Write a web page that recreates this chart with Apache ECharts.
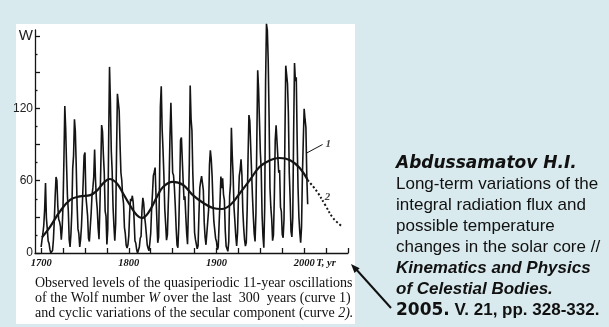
<!DOCTYPE html>
<html>
<head>
<meta charset="utf-8">
<script src="https://cdn.jsdelivr.net/npm/echarts@6/dist/echarts.min.js"></script>
<style>
  html, body { margin: 0; padding: 0; background: #d9eaee; }
  #chart { width: 609px; height: 327px; }
</style>
</head>
<body>
<div id="chart"></div>
<script>
// Yearly Wolf numbers W, 1700 onward (curve 1)
const wolfStartYear = 1700;
const wolfValues = [
  5, 11, 16, 23, 36, 58, 29, 20, 10, 8,
  3, 0, 0, 2, 11, 27, 47, 63, 60, 39,
  28, 26, 22, 11, 21, 40, 78, 122, 103, 73,
  47, 35, 11, 5, 16, 34, 70, 81, 111, 101,
  73, 40, 20, 16, 5, 11, 22, 40, 60, 80.9,
  83.4, 47.7, 47.8, 30.7, 12.2, 9.6, 10.2, 32.4, 47.6, 54,
  62.9, 85.9, 61.2, 45.1, 36.4, 20.9, 11.4, 37.8, 69.8, 106.1,
  100.8, 81.6, 66.5, 34.8, 30.6, 7, 19.8, 92.5, 154.4, 125.9,
  84.8, 68.1, 38.5, 22.8, 10.2, 24.1, 82.9, 132, 130.9, 118.1,
  89.9, 66.6, 60, 46.9, 41, 21.3, 16, 6.4, 4.1, 6.8,
  14.5, 34, 45, 43.1, 47.5, 42.2, 28.1, 10.1, 8.1, 2.5,
  0, 1.4, 5, 12.2, 13.9, 35.4, 45.8, 41.1, 30.1, 23.9,
  15.6, 6.6, 4, 1.8, 8.5, 16.6, 36.3, 49.6, 64.2, 67,
  70.9, 47.8, 27.5, 8.5, 13.2, 56.9, 121.5, 138.3, 103.2, 85.7,
  64.6, 36.7, 24.2, 10.7, 15, 40.1, 61.5, 98.5, 124.7, 96.3,
  66.6, 64.5, 54.1, 39, 20.6, 6.7, 4.3, 22.7, 54.8, 93.8,
  95.8, 77.2, 59.1, 44, 47, 30.5, 16.3, 7.3, 37.6, 74,
  139, 111.2, 101.6, 66.2, 44.7, 17, 11.3, 12.4, 3.4, 6,
  32.3, 54.3, 59.7, 63.7, 63.5, 52.2, 25.4, 13.1, 6.8, 6.3,
  7.1, 35.6, 73, 85.1, 78, 64, 41.8, 26.2, 26.7, 12.1,
  9.5, 2.7, 5, 24.4, 42, 63.5, 53.8, 62, 48.5, 43.9,
  18.6, 5.7, 3.6, 1.4, 9.6, 47.4, 57.1, 103.9, 80.6, 63.6,
  37.6, 26.1, 14.2, 5.8, 16.7, 44.3, 63.9, 69, 77.8, 64.9,
  35.7, 21.2, 11.1, 5.7, 8.7, 36.1, 79.7, 114.4, 109.6, 88.8,
  67.8, 47.5, 30.6, 16.3, 9.6, 33.2, 92.6, 151.6, 136.3, 134.7,
  83.9, 69.4, 31.5, 13.9, 4.4, 38, 141.7, 190.2, 184.8, 159,
  112.3, 53.9, 37.6, 27.9, 10.2, 15.1, 47, 93.8, 105.9, 105.5,
  104.5, 66.6, 68.9, 38, 34.5, 15.5, 12.6, 27.5, 92.5, 155.4,
  154.6, 140.4, 115.9, 66.6, 45.9, 17.9, 13.4, 29.4, 100.2, 157.6,
  142.6, 145.7, 94.3, 54.6, 29.9, 17.5, 8.6, 21.5, 64.3, 93.3,
  119.6, 111, 104, 63.7, 40.4
];

// Secular component (curve 2): observed part and its extension
const secularYears  = [1701, 1710, 1721, 1733, 1744, 1756, 1764, 1771, 1778, 1786, 1793, 1801, 1809, 1815, 1822, 1832, 1839, 1850, 1862, 1873, 1885, 1896, 1906, 1916, 1927, 1938, 1949, 1961, 1972, 1984, 1995, 2004];
const secularValues = [13, 21.5, 34, 44, 47, 48, 52, 58, 61.4, 58, 50, 40, 31.5, 29, 33, 46.4, 54.7, 59, 56.4, 48, 41.5, 37.3, 36.5, 40, 50, 60.5, 71.3, 77, 78.8, 77, 70.5, 60.5];
const forecastYears  = [2004, 2015, 2024, 2033, 2044];
const forecastValues = [60.5, 50.6, 39.8, 29, 21.6];

// Axis ticks and labels
const xTickYears  = [1700, 1725, 1750, 1775, 1800, 1825, 1850, 1875, 1900, 1925, 1950, 1975, 2000, 2025, 2050];
const xLabelYears = [1700, 1800, 1900, 2000, 2025];
const xAxisName   = 'T, yr';
const yMajorTicks = [0, 30, 60, 90, 120, 150, 180];
const yMinorTicks = [15, 45, 75, 105, 135, 165];
const yLabelTicks = [0, 60, 120, 180];
const yAxisName   = 'W';

const wolfData = wolfValues.map((v, i) => [wolfStartYear + i, v]);
const secularData = secularYears.map((y, i) => [y, secularValues[i]]);
const forecastData = forecastYears.map((y, i) => [y, forecastValues[i]]);

const ink = '#141414';
const serif = "'Liberation Serif', 'Times New Roman', serif";
const sans = "'Liberation Sans', Arial, sans-serif";
const heavy = "'DejaVu Sans', 'Liberation Sans', sans-serif";

const chart = echarts.init(document.getElementById('chart'), null, { renderer: 'canvas' });

const option = {
  backgroundColor: '#d9eaee',
  animation: false,
  grid: { left: 35, right: 261, top: 30, bottom: 74, containLabel: false },
  xAxis: {
    type: 'value', min: 1693, max: 2050,
    splitLine: { show: false },
    axisLine: { show: true, lineStyle: { color: ink, width: 1.3 } },
    axisTick: { show: true, inside: true, length: 5, customValues: xTickYears, lineStyle: { color: ink, width: 1.3 } },
    axisLabel: {
      customValues: xLabelYears, margin: 5,
      formatter: v => (v === 2025 ? xAxisName : String(v)),
      fontFamily: serif, fontStyle: 'italic', fontWeight: 'bold', fontSize: 10.5, color: ink
    }
  },
  yAxis: [{
    type: 'value', min: 0, max: 185,
    splitLine: { show: false },
    axisLine: { show: true, lineStyle: { color: ink, width: 1.3 } },
    axisTick: { show: true, inside: true, length: 5, customValues: yMajorTicks, lineStyle: { color: ink, width: 1.3 } },
    axisLabel: {
      customValues: yLabelTicks, margin: 2,
      formatter: v => (v === 180 ? '{w|' + yAxisName + '}' : String(v)),
      fontFamily: sans, fontSize: 12, color: '#222',
      rich: { w: { fontFamily: sans, fontSize: 15, color: '#222' } }
    }
  }, {
    type: 'value', min: 0, max: 185, position: 'left',
    splitLine: { show: false },
    axisLine: { show: false },
    axisTick: { show: true, inside: true, length: 2.5, customValues: yMinorTicks, lineStyle: { color: ink, width: 1.3 } },
    axisLabel: { show: false }
  }],
  series: [{
    name: 'curve 1', type: 'line', data: wolfData, clip: false,
    symbol: 'none', lineStyle: { color: ink, width: 1.6 },
    markLine: {
      silent: true, symbol: 'none', label: { show: false },
      lineStyle: { color: ink, width: 1, type: 'solid' },
      data: [[{ coord: [2003, 83] }, { coord: [2021, 90] }]]
    }
  }, {
    name: 'curve 2', type: 'line', data: secularData, smooth: 0.4,
    symbol: 'none', lineStyle: { color: ink, width: 2.2 }
  }, {
    name: 'curve 2 extension', type: 'line', data: forecastData, smooth: 0.4,
    symbol: 'none', lineStyle: { color: ink, width: 2, type: [2, 2.2] }
  }, {
    name: 'curve labels', type: 'scatter', symbolSize: 0,
    data: [[2027.5, 90.5, '1'], [2026.5, 46, '2']],
    label: {
      show: true, position: 'inside', formatter: p => p.data[2],
      fontFamily: serif, fontStyle: 'italic', fontWeight: 'bold', fontSize: 11, color: ink
    }
  }],
  graphic: [
    // white panel behind the figure
    { type: 'rect', z: -10, shape: { x: 16, y: 24, width: 339, height: 300 }, style: { fill: '#ffffff' } },
    // figure caption
    { type: 'text', left: 35, top: 276, style: { text: 'Observed levels of the quasiperiodic 11-year oscillations', fontFamily: serif, fontSize: 14, fill: '#111' } },
    { type: 'text', left: 35, top: 291, style: {
      text: 'of the Wolf number {i|W} over the last  300  years (curve 1)',
      fontFamily: serif, fontSize: 14, fill: '#111',
      rich: { i: { fontFamily: serif, fontStyle: 'italic', fontSize: 14, fill: '#111' } } } },
    { type: 'text', left: 35, top: 306, style: {
      text: 'and cyclic variations of the secular component (curve {i|2).}',
      fontFamily: serif, fontSize: 14, fill: '#111',
      rich: { i: { fontFamily: serif, fontStyle: 'italic', fontSize: 14, fill: '#111' } } } },
    // reference block
    { type: 'text', left: 396, top: 153, style: {
      text: [
        '{h|Abdussamatov H.I.}',
        '{n|Long-term variations of the}',
        '{n|integral radiation flux and}',
        '{n|possible temperature}',
        '{n|changes in the solar core //}',
        '{b|Kinematics and Physics}',
        '{b|of Celestial Bodies.}',
        '{y|2005.}{p| V. 21, pp. 328-332.}'
      ].join('\n'),
      fill: '#111', fontFamily: sans, fontSize: 17, lineHeight: 21,
      rich: {
        h: { fontFamily: heavy, fontSize: 17, fontWeight: 'bold', fontStyle: 'italic', lineHeight: 21, fill: '#111' },
        n: { fontFamily: sans, fontSize: 17, lineHeight: 21, fill: '#111' },
        b: { fontFamily: sans, fontSize: 17, fontWeight: 'bold', fontStyle: 'italic', lineHeight: 21, fill: '#111' },
        y: { fontFamily: heavy, fontSize: 17, fontWeight: 'bold', lineHeight: 21, fill: '#111' },
        p: { fontFamily: sans, fontSize: 17, fontWeight: 'bold', lineHeight: 21, fill: '#111' }
      }
    } },
    // pointer arrow toward the figure
    { type: 'line', shape: { x1: 391, y1: 308, x2: 355, y2: 268 }, style: { stroke: '#111', lineWidth: 2 } },
    { type: 'polygon', shape: { points: [[351, 264], [359.7, 268.2], [354.5, 273.0]] }, style: { fill: '#111' } }
  ]
};

chart.setOption(option);
</script>
</body>
</html>
